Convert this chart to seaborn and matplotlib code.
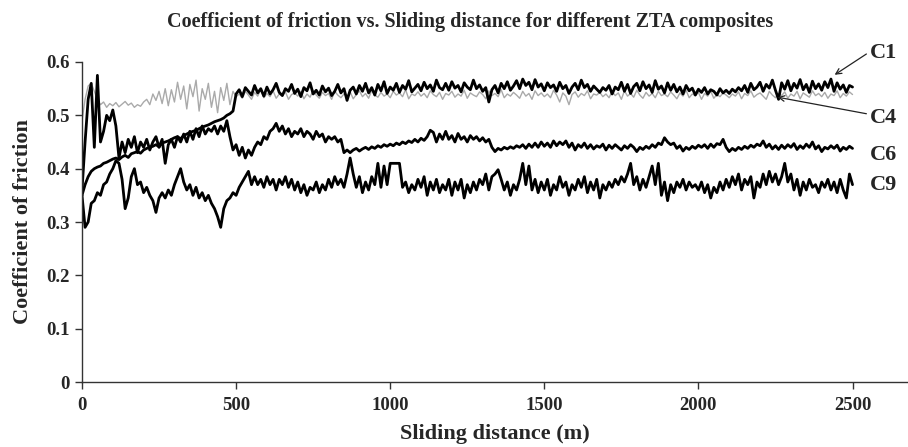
import numpy as np
import pandas as pd
import matplotlib
matplotlib.use("Agg")
import matplotlib.pyplot as plt
import seaborn as sns

# ---------------- data ----------------
distance = list(range(0, 2501, 10))  # sliding distance grid (m)

c1_start = [0.350, 0.370, 0.385, 0.395, 0.400, 0.403, 0.405, 0.410, 0.412, 0.415,
            0.418, 0.420, 0.417, 0.422, 0.425, 0.421, 0.428, 0.430, 0.432, 0.429,
            0.435, 0.438, 0.440, 0.442, 0.445, 0.441, 0.448, 0.450, 0.452, 0.455,
            0.458, 0.460, 0.456, 0.462, 0.465, 0.468, 0.470, 0.472, 0.475, 0.478,
            0.480, 0.482, 0.485, 0.488, 0.490, 0.492, 0.495, 0.500, 0.503, 0.508]
c1_rest = [0.540, 0.548, 0.535, 0.552, 0.545, 0.538, 0.556, 0.542, 0.550, 0.536,
           0.553, 0.540, 0.548, 0.560, 0.543, 0.537, 0.550, 0.545, 0.558, 0.541,
           0.549, 0.535, 0.552, 0.546, 0.561, 0.540, 0.547, 0.538, 0.555, 0.544,
           0.551, 0.537, 0.545, 0.558, 0.542, 0.550, 0.528, 0.547, 0.553, 0.540,
           0.556, 0.545, 0.560, 0.542, 0.552, 0.538, 0.558, 0.546, 0.563, 0.541,
           0.553, 0.547, 0.560, 0.543, 0.556, 0.549, 0.565, 0.544, 0.551, 0.558,
           0.546, 0.562, 0.550, 0.557, 0.545, 0.566, 0.552, 0.548, 0.560, 0.547,
           0.563, 0.551, 0.556, 0.544, 0.561, 0.553, 0.548, 0.566, 0.550, 0.557,
           0.545, 0.552, 0.525, 0.548, 0.556, 0.542, 0.560, 0.550, 0.563, 0.547,
           0.555, 0.565, 0.550, 0.568, 0.556, 0.562, 0.548, 0.567, 0.553, 0.559,
           0.546, 0.561, 0.552, 0.557, 0.545, 0.562, 0.550, 0.556, 0.541, 0.553,
           0.560, 0.548, 0.566, 0.552, 0.558, 0.545, 0.555, 0.549, 0.543, 0.552,
           0.547, 0.556, 0.540, 0.553, 0.548, 0.562, 0.545, 0.558, 0.541, 0.554,
           0.560, 0.546, 0.563, 0.550, 0.557, 0.543, 0.565, 0.549, 0.555, 0.542,
           0.561, 0.547, 0.558, 0.544, 0.553, 0.540, 0.556, 0.546, 0.551, 0.538,
           0.549, 0.543, 0.552, 0.540, 0.548, 0.545, 0.538, 0.550, 0.542, 0.547,
           0.541, 0.549, 0.544, 0.552, 0.546, 0.556, 0.543, 0.560, 0.548, 0.553,
           0.562, 0.545, 0.558, 0.551, 0.566, 0.547, 0.530, 0.561, 0.549, 0.565,
           0.546, 0.560, 0.551, 0.567, 0.548, 0.558, 0.543, 0.564, 0.550, 0.559,
           0.547, 0.563, 0.552, 0.568, 0.545, 0.561, 0.549, 0.557, 0.543, 0.556,
           0.553]
c1 = c1_start + c1_rest

c4_start = [0.490, 0.530, 0.555, 0.560, 0.545, 0.530, 0.520, 0.525, 0.515, 0.522,
            0.518, 0.524, 0.516, 0.521, 0.526, 0.519, 0.523, 0.515, 0.520, 0.517,
            0.525, 0.530, 0.520, 0.540, 0.528, 0.545, 0.522, 0.550, 0.518, 0.548,
            0.525, 0.562, 0.530, 0.555, 0.512, 0.558, 0.535, 0.566, 0.508, 0.550,
            0.530, 0.560, 0.515, 0.545, 0.505, 0.552, 0.528, 0.560, 0.520, 0.545]
c4_rest = [0.535, 0.540, 0.532, 0.545, 0.538, 0.530, 0.543, 0.536, 0.548, 0.533,
           0.541, 0.535, 0.546, 0.532, 0.540, 0.537, 0.544, 0.530, 0.539, 0.542,
           0.536, 0.545, 0.531, 0.540, 0.534, 0.547, 0.538, 0.532, 0.543, 0.537,
           0.541, 0.530, 0.545, 0.538, 0.533, 0.540, 0.536, 0.544, 0.531, 0.539,
           0.546, 0.535, 0.541, 0.532, 0.547, 0.538, 0.534, 0.543, 0.536, 0.540,
           0.533, 0.545, 0.538, 0.542, 0.535, 0.548, 0.531, 0.540, 0.537, 0.544,
           0.536, 0.541, 0.533, 0.546, 0.539, 0.535, 0.543, 0.530, 0.541, 0.538,
           0.545, 0.534, 0.540, 0.536, 0.547, 0.532, 0.542, 0.538, 0.535, 0.544,
           0.539, 0.531, 0.546, 0.537, 0.541, 0.535, 0.548, 0.533, 0.540, 0.536,
           0.543, 0.538, 0.532, 0.545, 0.536, 0.541, 0.530, 0.546, 0.537, 0.542,
           0.535, 0.540, 0.533, 0.547, 0.538, 0.525, 0.542, 0.536, 0.520, 0.539,
           0.544, 0.534, 0.541, 0.537, 0.546, 0.531, 0.540, 0.538, 0.543, 0.535,
           0.540, 0.533, 0.545, 0.537, 0.542, 0.530, 0.546, 0.536, 0.541, 0.534,
           0.547, 0.538, 0.532, 0.543, 0.536, 0.541, 0.533, 0.545, 0.537, 0.540,
           0.535, 0.544, 0.538, 0.531, 0.542, 0.536, 0.547, 0.533, 0.540, 0.537,
           0.543, 0.530, 0.541, 0.536, 0.545, 0.532, 0.539, 0.535, 0.542, 0.538,
           0.533, 0.540, 0.536, 0.544, 0.531, 0.541, 0.537, 0.546, 0.534, 0.539,
           0.542, 0.536, 0.530, 0.545, 0.538, 0.533, 0.541, 0.537, 0.544, 0.532,
           0.540, 0.536, 0.545, 0.531, 0.542, 0.538, 0.534, 0.546, 0.537, 0.541,
           0.535, 0.543, 0.532, 0.540, 0.537, 0.546, 0.533, 0.541, 0.536, 0.544,
           0.539]
c4 = c4_start + c4_rest

c6 = [0.360, 0.450, 0.530, 0.560, 0.440, 0.575, 0.450, 0.470, 0.500, 0.490,
      0.510, 0.480, 0.420, 0.450, 0.430, 0.455, 0.440, 0.460, 0.430, 0.450,
      0.440, 0.455, 0.435, 0.450, 0.460, 0.440, 0.455, 0.410, 0.445, 0.455,
      0.440, 0.460, 0.450, 0.465, 0.450, 0.470, 0.455, 0.475, 0.460, 0.480,
      0.465, 0.475, 0.470, 0.480, 0.465, 0.480, 0.470, 0.490, 0.460, 0.435,
      0.445, 0.425, 0.440, 0.420, 0.435, 0.425, 0.440, 0.450, 0.445, 0.460,
      0.455, 0.470, 0.475, 0.485, 0.470, 0.480, 0.465, 0.475, 0.460, 0.470,
      0.465, 0.475, 0.460, 0.470, 0.465, 0.455, 0.470, 0.460, 0.465, 0.450,
      0.460, 0.455, 0.460, 0.450, 0.455, 0.430, 0.435, 0.430, 0.435, 0.438,
      0.433, 0.437, 0.440, 0.436, 0.441, 0.438, 0.443, 0.440, 0.445, 0.442,
      0.446, 0.443, 0.448, 0.445, 0.450, 0.447, 0.452, 0.449, 0.455, 0.450,
      0.457, 0.453, 0.460, 0.472, 0.468, 0.450, 0.465, 0.455, 0.470, 0.455,
      0.462, 0.450, 0.466, 0.455, 0.460, 0.450, 0.462, 0.455, 0.460, 0.452,
      0.458, 0.450, 0.455, 0.440, 0.432, 0.438, 0.435, 0.440, 0.437, 0.441,
      0.438, 0.443, 0.440, 0.445, 0.438, 0.446, 0.440, 0.448, 0.440, 0.450,
      0.442, 0.448, 0.440, 0.452, 0.443, 0.450, 0.445, 0.452, 0.440, 0.448,
      0.435, 0.445, 0.440, 0.448, 0.438, 0.445, 0.437, 0.443, 0.440, 0.446,
      0.435, 0.444, 0.438, 0.445, 0.440, 0.435, 0.443, 0.438, 0.445, 0.440,
      0.432, 0.440, 0.436, 0.442, 0.438, 0.445, 0.440, 0.448, 0.445, 0.458,
      0.450, 0.445, 0.448, 0.438, 0.443, 0.433, 0.440, 0.436, 0.442, 0.438,
      0.444, 0.440, 0.445, 0.438, 0.446, 0.440, 0.447, 0.445, 0.455, 0.440,
      0.432, 0.438, 0.434, 0.440, 0.436, 0.442, 0.438, 0.444, 0.440, 0.446,
      0.443, 0.452, 0.440, 0.446, 0.437, 0.443, 0.436, 0.444, 0.438, 0.445,
      0.440, 0.447, 0.436, 0.443, 0.438, 0.446, 0.440, 0.450, 0.437, 0.443,
      0.432, 0.440, 0.437, 0.443, 0.438, 0.444, 0.433, 0.440, 0.436, 0.442,
      0.438]

c9 = [0.350, 0.290, 0.300, 0.335, 0.340, 0.355, 0.350, 0.370, 0.375, 0.390,
      0.400, 0.415, 0.410, 0.380, 0.325, 0.345, 0.385, 0.400, 0.370, 0.375,
      0.355, 0.365, 0.350, 0.340, 0.318, 0.345, 0.355, 0.345, 0.360, 0.350,
      0.370, 0.385, 0.400, 0.375, 0.360, 0.370, 0.350, 0.365, 0.345, 0.355,
      0.340, 0.350, 0.335, 0.325, 0.310, 0.290, 0.325, 0.340, 0.345, 0.355,
      0.350, 0.365, 0.375, 0.385, 0.395, 0.370, 0.385, 0.370, 0.380, 0.365,
      0.385, 0.370, 0.380, 0.360, 0.380, 0.370, 0.385, 0.365, 0.380, 0.360,
      0.375, 0.355, 0.370, 0.350, 0.365, 0.360, 0.375, 0.355, 0.370, 0.360,
      0.380, 0.365, 0.385, 0.370, 0.380, 0.365, 0.390, 0.420, 0.390, 0.365,
      0.385, 0.355, 0.375, 0.360, 0.385, 0.370, 0.410, 0.365, 0.405, 0.370,
      0.410, 0.410, 0.410, 0.410, 0.365, 0.375, 0.355, 0.370, 0.360, 0.380,
      0.365, 0.385, 0.350, 0.375, 0.360, 0.380, 0.355, 0.370, 0.360, 0.380,
      0.350, 0.375, 0.360, 0.380, 0.345, 0.370, 0.355, 0.375, 0.360, 0.380,
      0.370, 0.390, 0.360, 0.385, 0.390, 0.398, 0.380, 0.360, 0.375, 0.350,
      0.370, 0.360, 0.380, 0.410, 0.370, 0.405, 0.360, 0.380, 0.355, 0.375,
      0.360, 0.380, 0.350, 0.370, 0.360, 0.385, 0.365, 0.375, 0.350, 0.370,
      0.360, 0.380, 0.365, 0.385, 0.355, 0.375, 0.360, 0.380, 0.345, 0.370,
      0.360, 0.375, 0.365, 0.380, 0.370, 0.385, 0.375, 0.390, 0.410, 0.370,
      0.385, 0.360, 0.380, 0.365, 0.385, 0.405, 0.370, 0.410, 0.350, 0.375,
      0.340, 0.370, 0.355, 0.375, 0.365, 0.380, 0.360, 0.375, 0.365, 0.370,
      0.360, 0.375, 0.355, 0.370, 0.345, 0.365, 0.355, 0.375, 0.360, 0.380,
      0.365, 0.385, 0.370, 0.390, 0.360, 0.380, 0.370, 0.385, 0.345, 0.375,
      0.365, 0.390, 0.370, 0.395, 0.375, 0.390, 0.370, 0.385, 0.410, 0.375,
      0.390, 0.360, 0.380, 0.350, 0.375, 0.360, 0.380, 0.365, 0.370, 0.355,
      0.375, 0.365, 0.380, 0.360, 0.375, 0.355, 0.380, 0.360, 0.345, 0.390,
      0.370]

composites = ["C1", "C4", "C6", "C9"]
y_ticks = [0, 0.1, 0.2, 0.3, 0.4, 0.5, 0.6]
y_tick_labels = ["0", "0.1", "0.2", "0.3", "0.4", "0.5", "0.6"]
x_ticks = [0, 500, 1000, 1500, 2000, 2500]

title = "Coefficient of friction vs. Sliding distance for different ZTA composites"
xlabel = "Sliding distance (m)"
ylabel = "Coefficient of friction"

# ---------------- styling ----------------
sns.set_style("ticks")
plt.rcParams["font.family"] = ["Liberation Serif", "DejaVu Serif"]
plt.rcParams["font.weight"] = "bold"

fig = plt.figure(figsize=(9.08, 4.47), dpi=100)
ax = fig.add_axes([0.0903, 0.1454, 1.0 - 0.0903, 0.8613 - 0.1454])

df = pd.DataFrame({
    "distance": distance * 4,
    "cof": c1 + c4 + c6 + c9,
    "composite": sum([[c] * len(distance) for c in composites], []),
})

styles = {"C4": ("#aaaaaa", 1.0), "C1": ("black", 2.0),
          "C6": ("black", 2.0), "C9": ("black", 2.0)}
for comp in ["C4", "C9", "C6", "C1"]:
    sub = df[df["composite"] == comp]
    col, lw = styles[comp]
    sns.lineplot(data=sub, x="distance", y="cof", ax=ax, color=col,
                 linewidth=lw, estimator=None, sort=False, legend=False)

ax.set_xlim(0, 2680)
ax.set_ylim(0, 0.6)
ax.set_xticks(x_ticks)
ax.set_xticklabels([str(v) for v in x_ticks])
ax.set_yticks(y_ticks)
ax.set_yticklabels(y_tick_labels)
ax.tick_params(axis="both", labelsize=13.5, length=5, width=1, color="#333333", pad=4)
ax.tick_params(axis="x", pad=6)
for lab in ax.get_xticklabels() + ax.get_yticklabels():
    lab.set_fontweight("bold")
for s in ["top", "right"]:
    ax.spines[s].set_visible(False)
for s in ["left", "bottom"]:
    ax.spines[s].set_color("#333333")
    ax.spines[s].set_linewidth(1)

ax.set_xlabel(xlabel, fontsize=16, fontweight="bold", labelpad=7)
ax.set_ylabel(ylabel, fontsize=16, fontweight="bold", labelpad=9)
fig.text(0.518, 0.951, title, ha="center", va="center", fontsize=14.5, fontweight="bold")

# labels with arrows
lab_x = 2600
lab_fs = 16
ax.text(lab_x, 0.617, "C1", ha="center", va="center", fontsize=lab_fs, fontweight="bold", clip_on=False)
ax.text(lab_x, 0.495, "C4", ha="center", va="center", fontsize=lab_fs, fontweight="bold", clip_on=False)
ax.text(lab_x, 0.426, "C6", ha="center", va="center", fontsize=lab_fs, fontweight="bold", clip_on=False)
ax.text(lab_x, 0.369, "C9", ha="center", va="center", fontsize=lab_fs, fontweight="bold", clip_on=False)
ax.annotate("", xy=(2442, 0.576), xytext=(2545, 0.615), annotation_clip=False,
            arrowprops=dict(arrowstyle="->", lw=0.9, color="#222222", shrinkA=0, shrinkB=0))
ax.annotate("", xy=(2257, 0.534), xytext=(2545, 0.503), annotation_clip=False,
            arrowprops=dict(arrowstyle="->", lw=0.9, color="#222222", shrinkA=0, shrinkB=0))

fig.savefig("out.png", dpi=100)
